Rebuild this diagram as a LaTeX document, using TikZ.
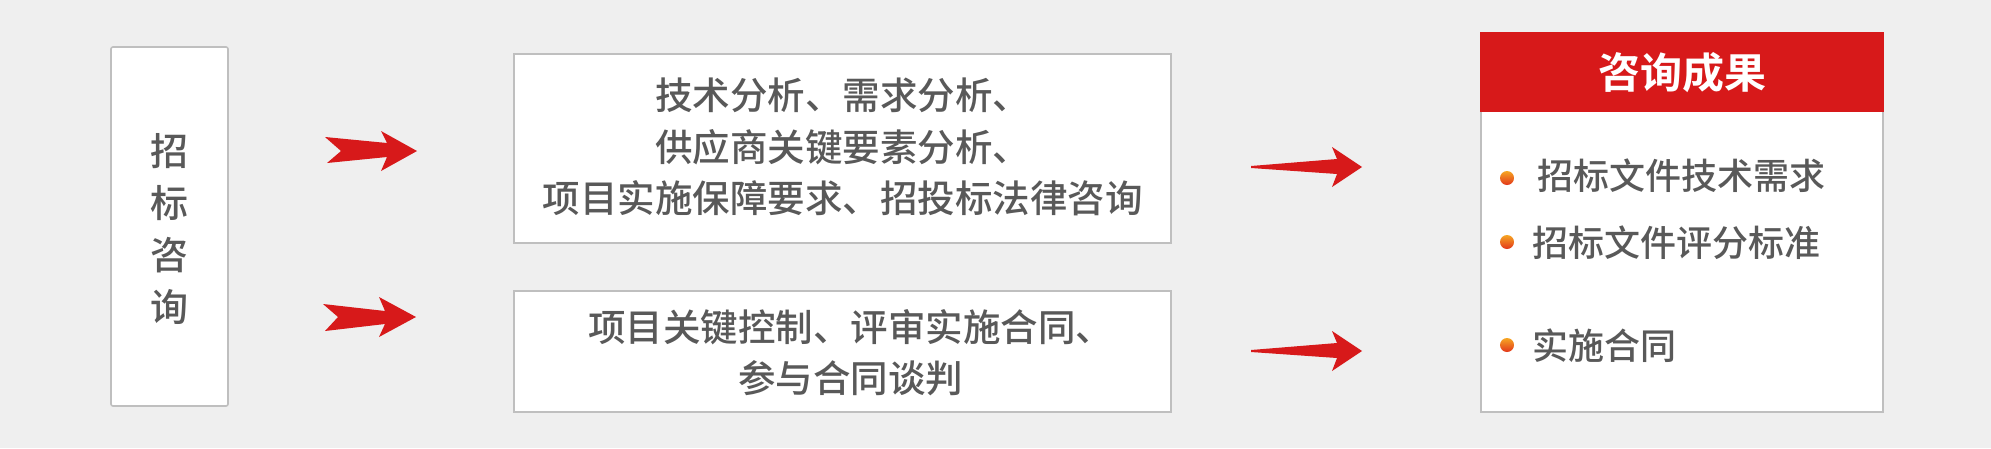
\documentclass[tikz,border=0pt]{standalone}
\usepackage{fontspec}
\newfontfamily\cjk{Noto Sans CJK SC}
\newfontfamily\cjkb{Noto Sans CJK SC Bold}
\newfontfamily\cjkm{Noto Sans CJK SC Medium}
\definecolor{bgc}{HTML}{EFEFEF}
\definecolor{bordc}{HTML}{BFBFBF}
\definecolor{txtc}{HTML}{595959}
\definecolor{redc}{HTML}{D7191A}
\definecolor{bulltop}{HTML}{F6A623}
\definecolor{bullbot}{HTML}{E2361B}
\tikzset{
  panel/.style={draw=bordc, line width=1.6pt, fill=white, inner sep=0pt},
  midtext/.style={text=txtc, font=\cjkm\fontsize{37.5}{51.5}\selectfont, align=center},
  righttext/.style={text=txtc, font=\cjkm\fontsize{36}{40}\selectfont, anchor=west, inner sep=0pt},
  redarrow/.style={fill=redc, draw=none},
  bullet/.style={circle, minimum size=14pt, inner sep=0pt, top color=bulltop, bottom color=bullbot, draw=none}
}
\begin{document}
\begin{tikzpicture}[x=1pt, y=-1pt]
\useasboundingbox[fill=bgc] (0,0) rectangle (1991,448);
% left box
\draw[panel, rounded corners=2pt] (111,47) rectangle (228,406);
\node[text=txtc, font=\cjkm\fontsize{38}{52}\selectfont, align=center] (left) at (169.5,229.5) {招\\标\\咨\\询};
% middle boxes
\draw[panel] (514,54) rectangle (1171,243);
\node[midtext] (m1) at (842.5,147) {技术分析、需求分析、\\供应商关键要素分析、\\项目实施保障要求、招投标法律咨询};
\draw[panel] (514,291) rectangle (1171,412);
\node[midtext] (m2) at (850.5,352.5) {项目关键控制、评审实施合同、\\参与合同谈判};
% right box
\draw[panel] (1481,33) rectangle (1883,412);
\fill[redc] (1480.2,32.2) rectangle (1883.8,112);
\node[text=white, font=\cjkb\fontsize{42}{44}\selectfont] (head) at (1682,73) {咨询成果};
\node[bullet] (b1) at (1507,178) {};
\node[bullet] (b2) at (1507,242) {};
\node[bullet] (b3) at (1507,345) {};
\node[righttext] (r1) at (1537,176) {招标文件技术需求};
\node[righttext] (r2) at (1532,243) {招标文件评分标准};
\node[righttext] (r3) at (1532,346) {实施合同};
% arrows
\fill[redarrow] (325,137) -- (387,143) -- (381,131) -- (417,151) -- (381,171) -- (387,157) -- (327,163) -- (341,151) -- cycle;
\fill[redarrow] (323,304) -- (385,311) -- (379,297) -- (416,317) -- (379,337) -- (385,324) -- (325,331) -- (338,317) -- cycle;
\fill[redarrow] (1251,166) -- (1337,159) -- (1332,147) -- (1362,167) -- (1332,187) -- (1337,174) -- (1251,168) -- cycle;
\fill[redarrow] (1251,350) -- (1337,343) -- (1332,331) -- (1362,351) -- (1332,371) -- (1337,358) -- (1251,352) -- cycle;
\end{tikzpicture}
\end{document}
